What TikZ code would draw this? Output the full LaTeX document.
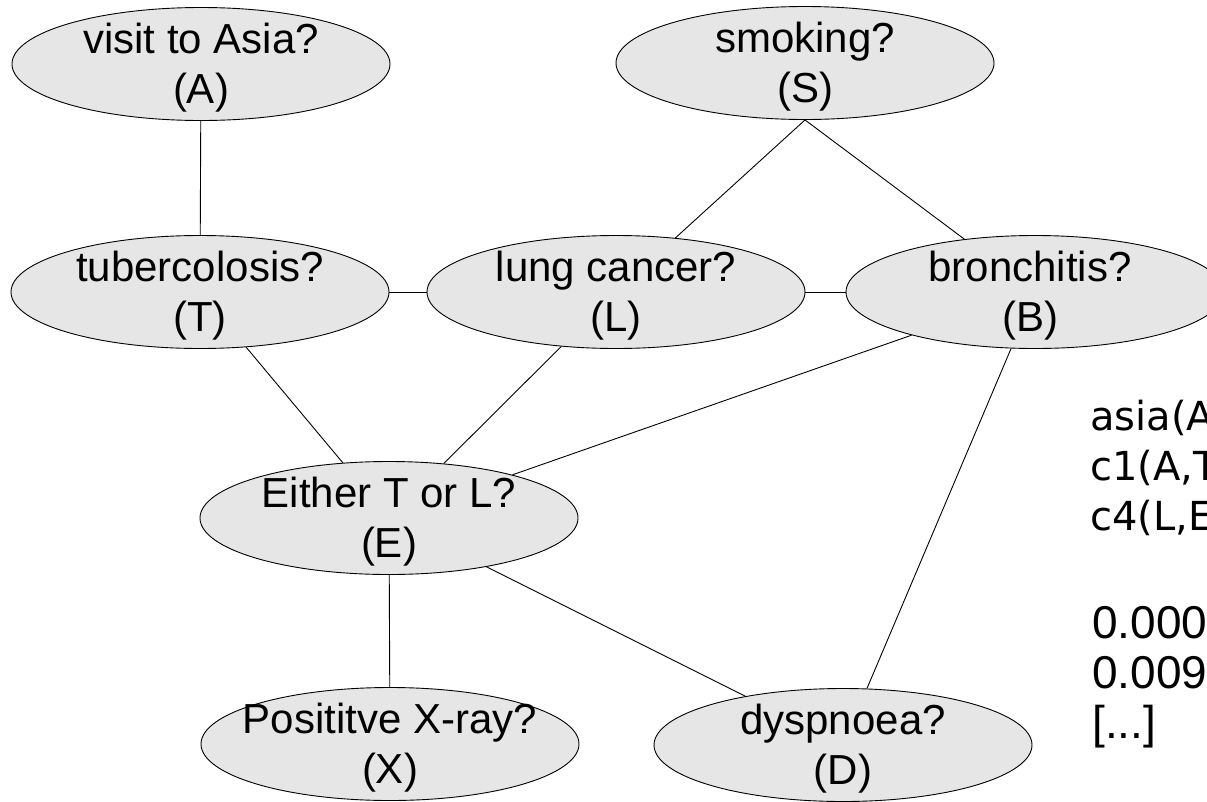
\documentclass[tikz,border=0pt]{standalone}
\usepackage{fontspec}
\setmainfont{Liberation Sans}
\newfontfamily\verdfont{DejaVu Sans}
\usetikzlibrary{shapes.geometric}
\definecolor{nodegray}{HTML}{E6E6E6}
\begin{document}
\begin{tikzpicture}[x=1pt,y=-1pt,
  bn/.style={ellipse, draw=black, line width=0.9pt, fill=nodegray, inner sep=0pt,
             minimum width=378pt, minimum height=113pt},
  lbl/.style={align=center, font=\fontsize{42}{50}\selectfont, inner sep=0pt},
  edge/.style={draw=black, line width=0.9pt},
  vtxt/.style={anchor=base west, inner sep=0pt, font=\verdfont\fontsize{40}{50}\selectfont},
  ntxt/.style={anchor=base west, inner sep=0pt, font=\fontsize{46}{50}\selectfont}]
\useasboundingbox (0,0) rectangle (1207,801);
\clip (0,0) rectangle (1207,801);

% nodes
\node[bn] (A) at (201,64) {};
\node[bn] (S) at (805,63) {};
\node[bn] (T) at (200,292) {};
\node[bn] (L) at (616,292) {};
\node[bn] (B) at (1035,292) {};
\node[bn] (E) at (389,518) {};
\node[bn] (X) at (390,744) {};
\node[bn] (D) at (843,745) {};

% connectors
\draw[edge] (A) -- (T);
\draw[edge] (S.south) -- (L);
\draw[edge] (S.south) -- (B);
\draw[edge] (T) -- (L);
\draw[edge] (L) -- (B);
\draw[edge] (T) -- (E);
\draw[edge] (L) -- (E);
\draw[edge] (B) -- (E);
\draw[edge] (E) -- (X);
\draw[edge] (E) -- (D);
\draw[edge] (B) -- (D);

% labels
\node[lbl] (At) at (201,68) {visit to Asia?\\(A)};
\node[lbl] (St) at (805,67) {smoking?\\(S)};
\node[lbl] (Tt) at (200,296) {tubercolosis?\\(T)};
\node[lbl] (Lt) at (616,296) {lung cancer?\\(L)};
\node[lbl] (Bt) at (1030,296) {bronchitis?\\(B)};
\node[lbl] (Et) at (389,522) {Either T or L?\\(E)};
\node[lbl] (Xt) at (390,748) {Posititve X-ray?\\(X)};
\node[lbl] (Dt) at (843,749) {dyspnoea?\\(D)};

% side text
\node[vtxt] (t1) at (1090,430) {asia(A};
\node[vtxt] (t2) at (1090,480) {c1(A,T};
\node[vtxt] (t3) at (1090,530) {c4(L,E};
\node[ntxt] (n1) at (1092,638) {0.000};
\node[ntxt] (n2) at (1092,688) {0.009};
\node[ntxt] (n3) at (1092,738) {[...]};
\end{tikzpicture}
\end{document}
